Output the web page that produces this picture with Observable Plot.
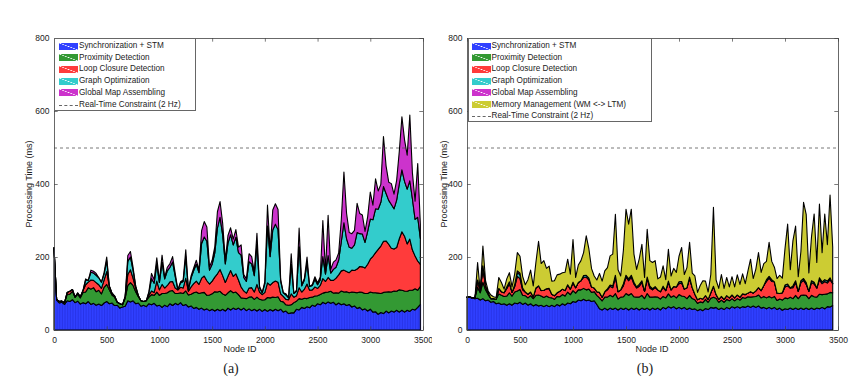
<!DOCTYPE html>
<html><head><meta charset="utf-8">
<script src="https://cdn.jsdelivr.net/npm/d3@7"></script>
<script src="https://cdn.jsdelivr.net/npm/@observablehq/plot@0.6"></script>
<style>
body{margin:0;background:#fff;}
#wrap{position:relative;width:865px;height:387px;font-family:"Liberation Sans",Arial,sans-serif;overflow:hidden;background:#fff}
.panel{position:absolute;top:0}
.ylab{position:absolute;font-size:9px;color:#222;white-space:nowrap;transform:translate(-50%,-50%) rotate(-90deg)}
.xlab{position:absolute;font-size:9px;color:#222;white-space:nowrap;transform:translate(-50%,-50%)}
.plab{position:absolute;font-family:"Liberation Serif","DejaVu Serif",serif;font-size:14px;color:#222;transform:translate(-50%,-50%)}
.legend{position:absolute;background:#fff;border:1px solid #666;box-sizing:border-box}
.row{position:absolute;height:10px;font-size:8.2px;color:#222;white-space:nowrap;line-height:10px}
.sw{position:absolute;height:7px;top:1.5px}
.txt{position:absolute;top:0}
.dash{position:absolute;top:5px;height:0;border-top:1px dashed #666}
</style>
</head><body>
<div id="wrap"></div>
<script>
// Node IDs (x categories)
const nodes = [0,25,50,75,100,125,150,175,200,225,250,275,300,325,350,375,400,425,450,475,
500,525,550,575,600,625,650,675,700,725,750,775,800,825,850,875,900,925,950,975,
1000,1025,1050,1075,1100,1125,1150,1175,1200,1225,1250,1275,1300,1325,1350,1375,1400,1425,1450,1475,
1500,1525,1550,1575,1600,1625,1650,1675,1700,1725,1750,1775,1800,1825,1850,1875,1900,1925,1950,1975,
2000,2025,2050,2075,2100,2125,2150,2175,2200,2225,2250,2275,2300,2325,2350,2375,2400,2425,2450,2475,
2500,2525,2550,2575,2600,2625,2650,2675,2700,2725,2750,2775,2800,2825,2850,2875,2900,2925,2950,2975,
3000,3025,3050,3075,3100,3125,3150,3175,3200,3225,3250,3275,3300,3325,3350,3375,3400,3425,3450,3475];

const xTicks = [0,500,1000,1500,2000,2500,3000,3500];
const yTicks = [0,200,400,600,800];
const constraint = [500];

// ---- Panel (a) layers (ms) ----
const aSync = [225,82,74,76,70,80,78,83,75,79,71,75,72,78,70,73,68,71,67,74,
78,72,74,67,68,60,63,65,80,77,80,72,74,65,68,64,72,69,73,66,
68,62,68,64,72,67,73,69,75,67,70,63,66,59,62,57,60,55,58,53,
57,52,57,53,57,52,60,55,60,56,60,55,60,53,58,53,57,52,57,51,
56,51,56,52,57,53,57,49,52,45,47,47,57,55,62,59,64,61,68,65,
72,69,76,72,77,73,76,69,74,69,72,67,70,63,66,59,62,55,58,52,
57,49,50,43,48,45,52,47,52,49,54,49,54,49,54,51,57,55,62,70];
const aProx = [0,2,4,3,5,18,20,23,15,19,17,28,32,38,42,43,37,38,32,43,
47,38,22,23,8,12,6,22,42,53,42,33,17,15,10,16,18,28,22,38,
27,38,32,38,35,41,27,31,27,33,37,33,32,43,42,43,42,48,37,43,
42,53,47,53,42,43,42,53,42,48,37,33,27,33,32,38,27,38,27,31,
27,38,32,38,32,38,22,28,17,23,22,28,22,31,22,28,22,28,22,28,
22,28,25,31,27,33,25,33,27,38,32,38,32,41,37,43,42,48,42,48,
47,53,52,58,52,58,52,58,52,58,52,61,55,58,52,58,52,58,47,50];
const aLoop = [0,0,0,0,0,5,8,5,0,3,3,5,20,15,25,20,25,15,15,20,
35,10,5,3,0,0,0,5,30,35,20,10,3,0,0,0,5,10,8,30,
15,25,15,20,25,25,15,10,15,15,35,10,20,25,30,25,40,45,40,30,
35,40,50,60,50,35,45,55,45,50,40,30,20,15,25,25,20,35,20,15,
20,40,35,40,45,40,20,15,15,15,30,15,15,30,20,25,40,20,20,25,
20,25,40,30,40,30,35,40,50,55,60,55,55,60,60,65,70,70,70,80,
90,100,110,120,130,140,140,130,120,115,120,140,160,150,130,140,110,90,80,60];
const aGraph = [0,0,0,0,0,0,0,0,0,0,0,0,13,5,21,20,20,19,17,17,
30,0,0,0,0,0,0,0,36,35,22,5,0,0,0,0,7,34,25,47,
20,60,25,40,40,53,32,0,12,18,59,4,25,36,46,32,95,107,108,38,
46,66,125,143,111,51,91,98,86,100,75,87,37,32,72,65,45,110,12,5,
25,156,78,144,156,144,35,10,12,5,80,10,12,111,17,25,57,10,12,21,
10,15,60,20,60,20,30,30,40,80,130,90,70,60,70,100,90,90,70,90,
110,100,120,110,120,150,130,120,120,110,130,150,170,150,150,160,140,100,120,70];
const aMap = [0,0,0,0,0,0,0,0,0,0,0,0,3,0,6,5,5,0,0,3,
10,0,0,0,0,0,0,0,16,15,8,0,0,0,0,0,3,14,10,17,
5,20,5,10,10,15,8,0,3,4,19,0,5,7,11,8,35,42,39,9,
11,17,45,43,32,11,21,19,16,21,15,28,8,7,22,20,10,30,3,0,
5,57,18,55,56,55,5,0,3,0,30,0,3,52,3,5,17,0,3,7,
5,8,99,10,110,10,20,20,20,60,139,70,40,40,40,80,55,52,30,40,
74,40,82,50,49,137,75,50,57,40,54,89,145,114,93,180,70,50,147,40];

// ---- Panel (b) layers (ms), nodes 0..3450 ----
const bSync = [90,90,88,86,87,82,86,80,82,76,78,72,74,70,72,68,72,68,74,72,
76,70,74,68,72,66,70,66,68,64,68,64,68,64,70,66,72,68,74,72,
78,76,82,80,84,80,82,78,80,70,58,55,60,55,60,56,60,55,60,56,
60,55,60,56,60,55,60,56,60,55,60,56,60,55,62,58,64,60,64,58,
62,58,62,56,60,56,58,53,57,53,59,56,62,60,62,56,60,56,62,58,
64,60,64,60,64,62,66,62,66,62,66,60,62,58,62,58,62,56,60,54,
58,56,60,56,60,56,60,56,60,56,60,56,60,58,62,58,64,63,67];
const bProx = [0,0,0,2,30,20,45,30,15,10,8,12,25,25,20,25,30,25,30,35,
35,25,20,20,22,20,25,30,25,25,25,25,20,20,22,25,25,25,30,25,
30,25,28,30,30,30,30,25,25,25,30,25,30,35,35,35,40,30,30,35,
40,40,40,35,30,35,35,30,40,35,30,35,30,30,30,30,35,30,30,30,
35,35,30,30,35,30,25,20,20,22,25,20,25,30,25,20,22,20,22,22,
22,20,22,22,25,25,25,28,25,30,30,28,30,30,30,30,30,25,25,28,
30,30,30,30,35,30,35,40,35,30,35,35,30,40,35,40,35,40,35];
const bLoop = [0,0,0,0,20,5,40,10,5,0,0,0,15,10,10,20,25,10,15,40,
30,15,10,10,10,5,20,25,15,20,20,25,10,10,10,15,15,15,20,15,
20,15,20,25,30,35,25,15,10,10,15,10,15,20,25,25,45,20,20,30,
45,40,45,35,25,30,35,20,40,25,20,25,20,20,25,20,30,20,25,30,
30,35,20,30,45,30,15,10,10,10,10,8,15,30,10,8,10,8,10,8,
10,8,10,8,10,10,10,15,10,15,20,20,30,45,50,45,40,20,15,20,
30,35,25,30,35,20,35,40,30,20,35,35,25,40,30,35,30,35,25];
const bGraph = [0,0,0,0,0,0,5,0,0,0,0,0,0,0,0,5,5,0,5,10,
10,5,0,0,0,0,0,0,0,0,0,0,0,0,0,0,0,0,0,0,
3,0,0,0,5,5,5,0,0,0,0,0,0,3,3,5,5,0,0,5,
5,5,5,5,3,5,5,0,5,5,3,3,0,0,3,0,5,0,0,0,
5,5,0,0,5,0,0,0,0,0,0,0,0,0,0,0,0,0,0,0,
0,0,0,0,0,0,0,0,0,0,0,0,0,5,5,5,0,0,0,0,
5,5,0,5,5,0,5,5,5,0,5,5,0,5,5,5,5,5,0];
const bMap = [0,0,0,0,0,0,0,0,0,0,0,0,0,0,0,0,0,0,0,5,
5,0,0,0,0,0,0,0,0,0,0,0,0,0,0,0,0,0,0,0,
0,0,0,0,0,0,0,0,0,0,0,0,0,0,0,0,0,0,0,0,
0,0,0,0,0,0,0,0,0,0,0,0,0,0,0,0,0,0,0,0,
0,0,0,0,0,0,0,0,0,0,0,0,0,0,0,0,0,0,0,0,
0,0,0,0,0,0,0,0,0,0,0,0,0,0,0,0,0,0,0,0,
0,0,0,0,0,0,0,0,0,0,0,0,0,0,0,0,0,0,0];
const bMem = [0,0,0,0,48,0,54,15,5,10,5,5,30,25,10,22,25,15,30,50,
46,32,20,40,60,30,70,122,74,81,56,61,36,41,49,47,45,50,70,41,
117,28,48,55,63,108,80,50,33,32,52,44,57,58,80,87,167,60,38,91,
181,150,181,77,48,70,100,38,131,70,72,71,30,40,56,30,87,38,50,40,
70,93,40,55,95,40,50,20,35,50,40,20,50,216,40,30,60,30,50,30,
50,30,55,35,55,30,60,89,40,60,96,50,60,50,93,50,40,40,50,40,
100,164,50,124,150,40,80,209,187,50,120,187,70,202,80,180,100,227,100];

const namesA = ["Synchronization + STM","Proximity Detection","Loop Closure Detection","Graph Optimization","Global Map Assembling"];
const namesB = ["Synchronization + STM","Proximity Detection","Loop Closure Detection","Graph Optimization","Global Map Assembling","Memory Management (WM <-> LTM)"];
const colorsA = ["#3040ff","#339933","#ff3b3b","#33cccc","#cc33cc"];
const colorsB = ["#3040ff","#339933","#ff3b3b","#33cccc","#cc33cc","#cccc33"];
const constraintLabel = "Real-Time Constraint (2 Hz)";

function makePanel(nx, series, names, colors, width, ml, mr) {
  const long = [];
  names.forEach((name, k) => nx.forEach((n, i) => long.push({node: n, series: name, value: series[k][i]})));
  const base = nx.map((n, i) => ({node: n, value: series[0][i]}));
  return Plot.plot({
    width, height: 387,
    marginLeft: ml, marginRight: mr, marginTop: 38, marginBottom: 57,
    x: {domain: [0, 3500]},
    y: {domain: [0, 800]},
    color: {domain: names, range: colors},
    style: {fontFamily: "'Liberation Sans', Arial, sans-serif", fontSize: "8.5px", color: "#222", background: "transparent"},
    marks: [
      Plot.areaY(long, {x: "node", y: "value", z: "series", fill: "series", stroke: "#000", strokeWidth: 1.1, strokeLinejoin: "round"}),
      Plot.ruleX(base, {x: "node", y1: 0, y2: "value", stroke: "#1010a0", strokeOpacity: 0.35, strokeWidth: 0.7}),
      Plot.ruleY(constraint, {stroke: "#555", strokeDasharray: "3,3", strokeWidth: 0.8}),
      Plot.ruleX(xTicks, {y1: 0, y2: 10, stroke: "#444", strokeWidth: 0.7}),
      Plot.ruleX(xTicks, {y1: 790, y2: 800, stroke: "#444", strokeWidth: 0.7}),
      Plot.ruleY(yTicks, {x1: 0, x2: 35, stroke: "#444", strokeWidth: 0.7}),
      Plot.ruleY(yTicks, {x1: 3465, x2: 3500, stroke: "#444", strokeWidth: 0.7}),
      Plot.frame({stroke: "#444", strokeWidth: 0.8}),
      Plot.axisX({ticks: xTicks, tickFormat: "d", tickSize: 0, tickPadding: 6, label: null}),
      Plot.axisY({ticks: yTicks, tickFormat: "d", tickSize: 0, tickPadding: 5, label: null})
    ]
  });
}

const wrap = document.getElementById("wrap");
function place(el, left) { el.classList.add("panel"); el.style.left = left + "px"; wrap.appendChild(el); }

place(makePanel(nodes, [aSync, aProx, aLoop, aGraph, aMap], namesA, colorsA, 432, 54, 9), 0);
place(makePanel(nodes.slice(0, bSync.length), [bSync, bProx, bLoop, bGraph, bMap, bMem], namesB, colorsB, 433, 35, 27), 432);

function addDiv(cls, text, x, y) {
  const d = document.createElement("div"); d.className = cls; d.textContent = text;
  d.style.left = x + "px"; d.style.top = y + "px"; wrap.appendChild(d); return d;
}
addDiv("ylab", "Processing Time (ms)", 29, 184);
addDiv("ylab", "Processing Time (ms)", 444, 184);
addDiv("xlab", "Node ID", 240, 349);
addDiv("xlab", "Node ID", 652, 349);
addDiv("plab", "(a)", 231, 369);
addDiv("plab", "(b)", 645, 369);

function legend(left, width, names, colors, swLeft, txtLeft) {
  const rows = names.length + 1;
  const box = document.createElement("div"); box.className = "legend";
  box.style.left = left + "px"; box.style.top = "38px"; box.style.width = width + "px";
  box.style.height = (rows * 11.7 + 2.5) + "px";
  wrap.appendChild(box);
  names.concat([constraintLabel]).forEach((name, i) => {
    const r = document.createElement("div"); r.className = "row";
    r.style.left = "0px"; r.style.top = (2 + i * 11.7) + "px"; r.style.width = "100%";
    if (i < names.length) {
      const s = document.createElement("div"); s.className = "sw";
      s.style.left = swLeft + "px"; s.style.width = "19px";
      const c = colors[i];
      s.style.background = `linear-gradient(to top right, ${c} 46%, rgba(255,255,255,0.55) 50%, ${c} 54%)`;
      r.appendChild(s);
    } else {
      const s = document.createElement("div"); s.className = "dash";
      s.style.left = swLeft + "px"; s.style.width = "19px"; r.appendChild(s);
    }
    const t = document.createElement("div"); t.className = "txt"; t.textContent = name;
    t.style.left = txtLeft + "px"; r.appendChild(t);
    box.appendChild(r);
  });
}
legend(54, 142, namesA, colorsA, 3.5, 24);
legend(468, 184, namesB, colorsB, 2.5, 22.5);
</script>
</body></html>
